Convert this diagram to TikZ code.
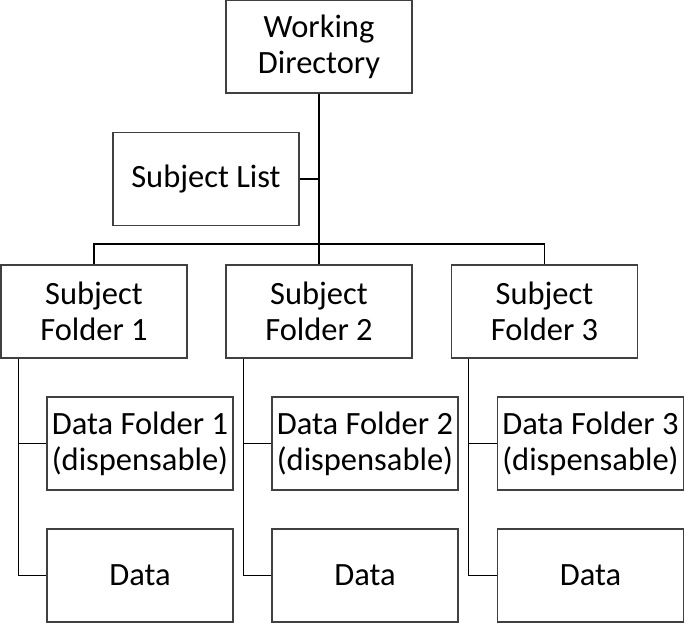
\documentclass[tikz,border=0pt]{standalone}
\usepackage{fontspec}
\setmainfont{Carlito}
\usepackage{tikz}
\usetikzlibrary{positioning,calc}
\definecolor{edge}{HTML}{404040}

\tikzset{
 box/.style={draw=edge,line width=1.7pt,minimum width=186pt,minimum height=93pt,
   inner sep=0pt,align=center,font=\fontsize{32.5}{36}\selectfont},
 link/.style={black,line width=1.3pt}
}

\begin{document}
\begin{tikzpicture}[x=1pt,y=1pt]
 \useasboundingbox (0,0) rectangle (685,623);
 \node[box] (wd) at (319,576.5) {Working\\Directory};
 \node[box] (list) at (206,444) {Subject List};
 \foreach \i/\x in {1/94,2/319,3/544.5}{
   \node[box] (sub\i) at (\x,311.5) {Subject\\Folder \i};
   \node[box] (df\i) at ({\x+46},179.5) {Data Folder \i\\(dispensable)};
   \node[box] (data\i) at ({\x+46},47.5) {Data};
   % trunk from subject folder
   \coordinate (tr\i) at ([xshift=18pt]sub\i.south west);
   \draw[link] (tr\i) |- (df\i.west);
   \draw[link] (tr\i) |- (data\i.west);
 }
 \draw[link] (wd.south) -- (sub2.north);
 \draw[link] (list.east) -- (list.east -| wd.south);
 \draw[link] (sub1.north) -- ++(0,20) -| (sub3.north);
\end{tikzpicture}
\end{document}
